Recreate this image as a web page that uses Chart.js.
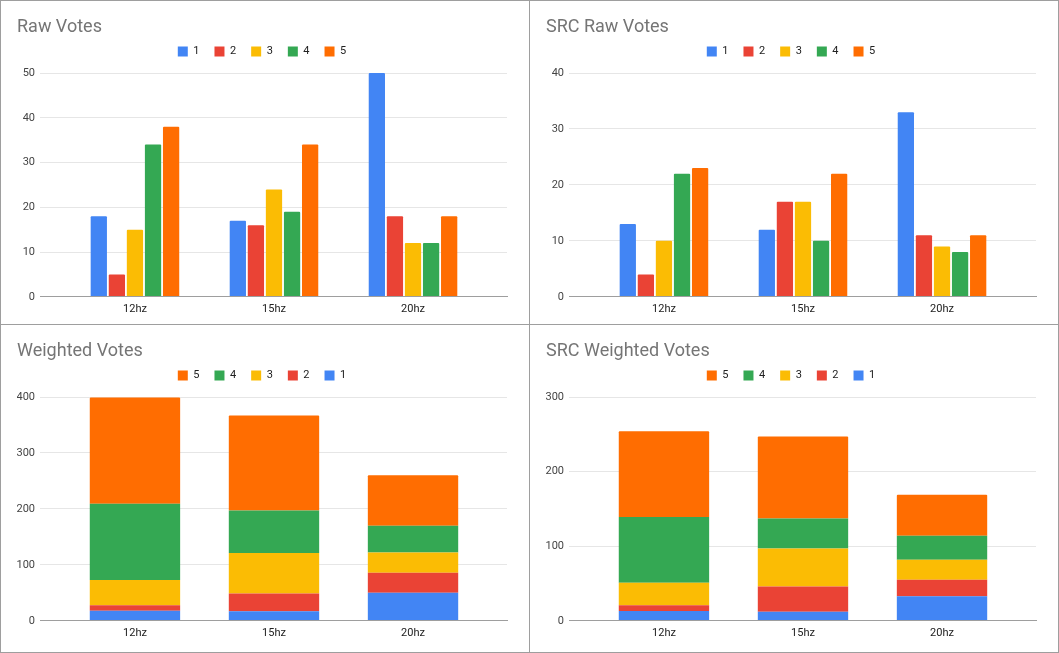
<!DOCTYPE html>
<html>
<head>
<meta charset="utf-8">
<script src="https://cdn.jsdelivr.net/npm/chart.js@4"></script>
<style>
  body { margin: 0; background: #fff; }
  #sheet { position: relative; width: 1059px; height: 653px; box-sizing: border-box; border: 1px solid #9e9e9e; }
  .panel { position: absolute; }
  .vline { position: absolute; left: 528px; top: 0; width: 1px; height: 651px; background: #9e9e9e; }
  .hline { position: absolute; left: 0; top: 323px; width: 1057px; height: 1px; background: #9e9e9e; }
</style>
</head>
<body>
<div id="sheet">
  <div class="panel" style="left:0;top:0;width:528px;height:323px"><canvas id="rawChart"></canvas></div>
  <div class="panel" style="left:529px;top:0;width:528px;height:323px"><canvas id="srcRawChart"></canvas></div>
  <div class="panel" style="left:0;top:324px;width:528px;height:327px"><canvas id="weightedChart"></canvas></div>
  <div class="panel" style="left:529px;top:324px;width:528px;height:327px"><canvas id="srcWeightedChart"></canvas></div>
  <div class="vline"></div>
  <div class="hline"></div>
</div>
<script>
const categories = ["12hz", "15hz", "20hz"];
const ratings = ["1", "2", "3", "4", "5"];
const colors = ["#4285f4", "#ea4335", "#fbbc04", "#34a853", "#ff6d01"];

// one row per rating (1..5), values for 12hz, 15hz, 20hz
const rawVotes = [
  [18, 17, 50],
  [5, 16, 18],
  [15, 24, 12],
  [34, 19, 12],
  [38, 34, 18],
];
const srcRawVotes = [
  [13, 12, 33],
  [4, 17, 11],
  [10, 17, 9],
  [22, 10, 8],
  [23, 22, 11],
];
const weightedVotes = [
  [18, 17, 50],
  [10, 32, 36],
  [45, 72, 36],
  [136, 76, 48],
  [190, 170, 90],
];
const srcWeightedVotes = [
  [13, 12, 33],
  [8, 34, 22],
  [30, 51, 27],
  [88, 40, 32],
  [115, 110, 55],
];

const font = "Roboto, Arial, sans-serif";

// a bit of room between the legend and the plot
const legendGap = {
  id: "legendGap",
  beforeInit(chart) {
    const fit = chart.legend.fit;
    chart.legend.fit = function () {
      fit.bind(chart.legend)();
      this.height += 6;
    };
  },
};

function makeChart(id, title, series, stacked, yMax, yStep, bottomPad) {
  const datasets = [];
  for (let i = 0; i < ratings.length; i++) {
    datasets.push({
      label: ratings[i],
      data: series[i].map((v, k) => ({ x: k, y: v })),
      backgroundColor: colors[i],
      borderWidth: 0,
      borderRadius: 1,
      barPercentage: stacked ? 1 : 0.9,
      categoryPercentage: 0.65,
    });
  }
  new Chart(document.getElementById(id), {
    type: "bar",
    data: { datasets: datasets },
    plugins: [legendGap],
    options: {
      responsive: true,
      maintainAspectRatio: false,
      animation: false,
      layout: { padding: { left: 16, right: 22, top: 0, bottom: bottomPad } },
      plugins: {
        title: {
          display: true,
          text: title,
          align: "start",
          color: "#757575",
          font: { family: font, size: 18, weight: "normal", lineHeight: 1 },
          padding: { top: 17, bottom: -5 },
        },
        legend: {
          reverse: stacked,
          labels: {
            boxWidth: 10,
            boxHeight: 10,
            padding: 15,
            color: "#222",
            font: { family: font, size: 11 },
          },
        },
        tooltip: { enabled: false },
      },
      scales: {
        x: {
          type: "linear",
          stacked: stacked,
          offset: false,
          min: -0.683,
          max: 2.676,
          afterBuildTicks: (s) => {
            s.ticks = categories.map((c, k) => ({ value: k }));
          },
          grid: { display: false, drawTicks: false },
          border: { color: "#9e9e9e", z: 1 },
          ticks: {
            padding: 6,
            color: "#222",
            font: { family: font, size: 11 },
            callback: (v) => categories[v],
          },
        },
        y: {
          stacked: stacked,
          min: 0,
          max: yMax,
          afterFit: (s) => { s.width = 23; },
          grid: { color: "#e6e6e6", drawTicks: false },
          border: { display: false },
          ticks: {
            stepSize: yStep,
            padding: 5,
            color: "#444",
            font: { family: font, size: 11 },
          },
        },
      },
    },
  });
}

makeChart("rawChart", "Raw Votes", rawVotes, false, 50, 10, 2);
makeChart("srcRawChart", "SRC Raw Votes", srcRawVotes, false, 40, 10, 2);
makeChart("weightedChart", "Weighted Votes", weightedVotes, true, 400, 100, 6);
makeChart("srcWeightedChart", "SRC Weighted Votes", srcWeightedVotes, true, 300, 100, 6);
</script>
</body>
</html>
